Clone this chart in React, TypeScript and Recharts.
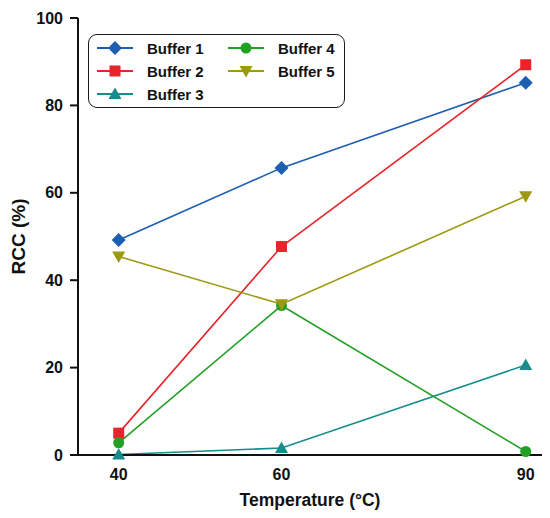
import { Legend, Line, LineChart, XAxis, YAxis } from "recharts";

const temps = [40, 60, 90];
const buffer1 = [49.2, 65.7, 85.2];
const buffer2 = [5.0, 47.7, 89.3];
const buffer3 = [0.1, 1.6, 20.6];
const buffer4 = [2.8, 34.2, 0.8];
const buffer5 = [45.4, 34.5, 59.2];
const xTicks = [40, 60, 90];
const yTicks = [0, 20, 40, 60, 80, 100];

type Shape = "diamond" | "square" | "triangle" | "circle" | "triangleDown";

const series: { key: string; name: string; color: string; shape: Shape }[] = [
  { key: "b1", name: "Buffer 1", color: "#1c5fb2", shape: "diamond" },
  { key: "b2", name: "Buffer 2", color: "#e6262b", shape: "square" },
  { key: "b3", name: "Buffer 3", color: "#168c8c", shape: "triangle" },
  { key: "b4", name: "Buffer 4", color: "#21a024", shape: "circle" },
  { key: "b5", name: "Buffer 5", color: "#9c9912", shape: "triangleDown" },
];

const data = temps.map((t, i) => ({
  t,
  b1: buffer1[i],
  b2: buffer2[i],
  b3: buffer3[i],
  b4: buffer4[i],
  b5: buffer5[i],
}));

const font = '"Liberation Sans", Arial, sans-serif';

function marker(shape: Shape, cx: number, cy: number, color: string, key?: string) {
  switch (shape) {
    case "diamond":
      return (
        <polygon key={key} points={`${cx},${cy - 7} ${cx + 7},${cy} ${cx},${cy + 7} ${cx - 7},${cy}`} fill={color} />
      );
    case "square":
      return <rect key={key} x={cx - 5.5} y={cy - 5.5} width={11} height={11} fill={color} />;
    case "circle":
      return <circle key={key} cx={cx} cy={cy} r={5.5} fill={color} />;
    case "triangle":
      return (
        <polygon key={key} points={`${cx},${cy - 6.5} ${cx + 6.5},${cy + 5} ${cx - 6.5},${cy + 5}`} fill={color} />
      );
    default:
      return (
        <polygon key={key} points={`${cx - 6.5},${cy - 5} ${cx + 6.5},${cy - 5} ${cx},${cy + 6.5}`} fill={color} />
      );
  }
}

function LegendBox() {
  return (
    <div
      style={{
        position: "relative",
        width: 255,
        height: 72,
        border: "1.6px solid #1a1a1a",
        borderRadius: 9,
        fontFamily: font,
        fontWeight: "bold",
        fontSize: 15,
        color: "#111",
      }}
    >
      {series.map((s, i) => {
        const col = i < 3 ? 0 : 1;
        const row = i % 3;
        return (
          <div
            key={s.key}
            style={{
              position: "absolute",
              left: 8 + col * 131,
              top: 5 + row * 23,
              height: 16,
              display: "flex",
              alignItems: "center",
              whiteSpace: "nowrap",
            }}
          >
            <svg width={36} height={16}>
              <line x1={0} y1={8} x2={36} y2={8} stroke={s.color} strokeWidth={1.8} />
              {marker(s.shape, 18, 8, s.color)}
            </svg>
            <span style={{ marginLeft: 14 }}>{s.name}</span>
          </div>
        );
      })}
    </div>
  );
}

export default function App() {
  return (
    <div style={{ position: "absolute", left: 0, top: 0, width: 550, height: 518, background: "#fff" }}>
      <LineChart width={550} height={518} data={data} margin={{ top: 18, right: 8, bottom: 0, left: 0 }}>
        <XAxis
          dataKey="t"
          type="number"
          domain={[35, 92]}
          ticks={xTicks}
          height={63}
          tickLine={false}
          tickSize={6}
          tickMargin={8}
          axisLine={{ stroke: "#111", strokeWidth: 2 }}
          tick={{ fontSize: 16, fontWeight: "bold", fill: "#111", fontFamily: font }}
          label={{
            value: "Temperature (°C)",
            position: "insideBottom",
            offset: 12,
            style: { fontSize: 17.5, fontWeight: "bold", fill: "#111", fontFamily: font },
          }}
        />
        <YAxis
          type="number"
          domain={[0, 100]}
          ticks={yTicks}
          width={78}
          tickSize={8}
          tickMargin={7}
          axisLine={{ stroke: "#111", strokeWidth: 2 }}
          tickLine={{ stroke: "#111", strokeWidth: 2 }}
          tick={{ fontSize: 16, fontWeight: "bold", fill: "#111", fontFamily: font }}
          label={{
            value: "RCC (%)",
            angle: -90,
            position: "insideLeft",
            offset: 18,
            style: { fontSize: 19, fontWeight: "bold", fill: "#111", fontFamily: font, textAnchor: "middle" },
          }}
        />
        <Legend
          layout="vertical"
          align="center"
          verticalAlign="middle"
          content={() => <LegendBox />}
          wrapperStyle={{ left: 88, top: 34, width: 258 }}
        />
        {series.map((s) => (
          <Line
            key={s.key}
            dataKey={s.key}
            name={s.name}
            stroke={s.color}
            strokeWidth={1.6}
            isAnimationActive={false}
            dot={(p: any) => marker(s.shape, p.cx, p.cy, s.color, `${s.key}-${p.index}`)}
            activeDot={false}
          />
        ))}
      </LineChart>
    </div>
  );
}
